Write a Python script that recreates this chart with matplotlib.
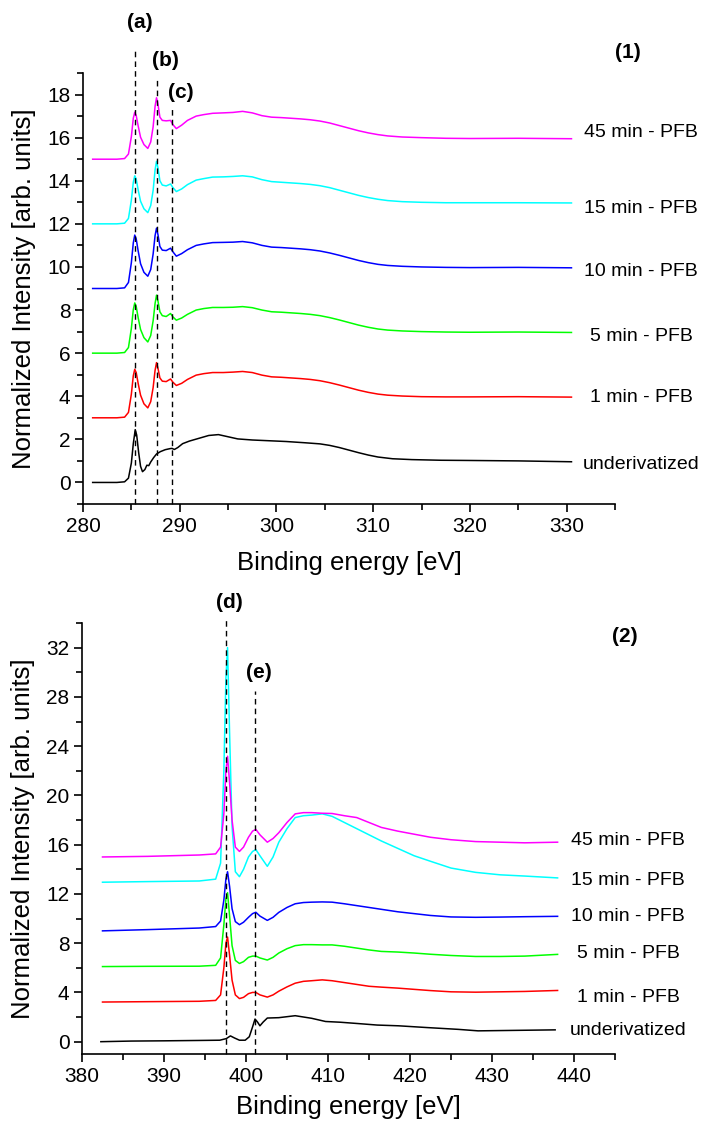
import matplotlib
matplotlib.use("Agg")
import matplotlib.pyplot as plt
from matplotlib.ticker import MultipleLocator

plt.rcParams['font.family'] = ['Liberation Sans', 'DejaVu Sans']

# ---- C 1s region (panel 1) ----
c_x = [281, 283.5, 284.3, 284.7, 285.0, 285.2, 285.35, 285.5, 285.7, 285.95, 286.3, 286.7, 287.0, 287.25,
       287.45, 287.6, 287.75, 287.95, 288.2, 288.6, 289.05, 289.3, 289.65, 290.2, 290.8, 291.7, 292.5,
       293.4, 294.5, 295.5, 296.5, 297.5, 298.5, 299.5, 300.5, 301.5, 302.5, 303.5, 304.5, 305.5, 306.5,
       307.5, 308.5, 309.5, 310.5, 311.5, 313.0, 315.0, 317.5, 320.0, 325.0, 330.5]
c_1min = [3.0, 3.0, 3.03, 3.25, 4.1, 4.95, 5.25, 5.1, 4.6, 4.05, 3.65, 3.46, 3.75, 4.4, 5.2, 5.56, 5.3,
          4.85, 4.7, 4.68, 4.8, 4.65, 4.5, 4.6, 4.78, 4.98, 5.05, 5.1, 5.1, 5.12, 5.15, 5.1, 4.98, 4.9,
          4.88, 4.85, 4.82, 4.78, 4.72, 4.63, 4.52, 4.4, 4.28, 4.18, 4.1, 4.05, 4.01, 3.98, 3.97, 3.97,
          3.98, 3.96]
c_5min = [6.0, 6.0, 6.03, 6.26, 7.15, 8.02, 8.33, 8.17, 7.65, 7.1, 6.72, 6.52, 6.82, 7.5, 8.3, 8.69, 8.42,
          7.92, 7.74, 7.7, 7.84, 7.68, 7.53, 7.63, 7.8, 8.0, 8.07, 8.12, 8.12, 8.13, 8.16, 8.11, 8.0, 7.92,
          7.9, 7.87, 7.84, 7.8, 7.74, 7.65, 7.54, 7.42, 7.3, 7.2, 7.12, 7.07, 7.03, 7.0, 6.98, 6.97, 6.98,
          6.96]
c_10min = [9.0, 9.0, 9.03, 9.28, 10.2, 11.12, 11.48, 11.3, 10.75, 10.15, 9.75, 9.57, 9.88, 10.6, 11.45,
           11.8, 11.5, 10.95, 10.78, 10.76, 10.87, 10.7, 10.5, 10.62, 10.8, 11.0, 11.07, 11.13, 11.14,
           11.15, 11.18, 11.12, 11.0, 10.92, 10.9, 10.87, 10.84, 10.8, 10.74, 10.65, 10.54, 10.42, 10.3,
           10.2, 10.12, 10.07, 10.03, 10.0, 9.98, 9.97, 9.98, 9.96]
c_15min = [12.0, 12.0, 12.03, 12.25, 13.1, 13.93, 14.23, 14.08, 13.58, 13.05, 12.7, 12.52, 12.85, 13.55,
           14.5, 14.9, 14.6, 14.0, 13.8, 13.76, 13.85, 13.68, 13.5, 13.62, 13.82, 14.03, 14.1, 14.17,
           14.18, 14.2, 14.23, 14.18, 14.05, 13.96, 13.93, 13.9, 13.87, 13.83, 13.77, 13.68, 13.56, 13.44,
           13.32, 13.22, 13.14, 13.08, 13.03, 13.0, 12.98, 12.98, 12.98, 12.97]
c_45min = [15.0, 15.0, 15.03, 15.24, 16.05, 16.9, 17.18, 17.03, 16.55, 16.02, 15.68, 15.5, 15.8, 16.5,
           17.45, 17.85, 17.55, 16.95, 16.8, 16.78, 16.8, 16.6, 16.42, 16.58, 16.8, 17.0, 17.07, 17.13,
           17.15, 17.17, 17.22, 17.15, 17.02, 16.95, 16.93, 16.9, 16.87, 16.83, 16.77, 16.68, 16.56, 16.44,
           16.32, 16.22, 16.14, 16.08, 16.03, 16.0, 15.97, 15.96, 15.97, 15.95]
c_x_und = [281, 283.5, 284.3, 284.7, 285.0, 285.2, 285.4, 285.55, 285.75, 285.95, 286.15, 286.4, 286.6,
           286.8, 287.0, 287.3, 287.6, 288.0, 288.5, 289.0, 289.2, 289.45, 289.8, 290.3, 291.0, 292.0,
           293.0, 294.0, 295.0, 296.0, 297.5, 299.0, 301.0, 303.0, 304.5, 305.5, 306.5, 307.5, 308.5,
           309.5, 310.5, 312.0, 314.0, 317.0, 320.0, 325.0, 330.5]
c_und = [0, 0, 0.03, 0.2, 0.9, 1.8, 2.45, 2.2, 1.4, 0.75, 0.5, 0.6, 0.8, 0.78, 0.95, 1.15, 1.32, 1.43,
         1.52, 1.57, 1.58, 1.53, 1.62, 1.8, 1.92, 2.05, 2.18, 2.22, 2.12, 2.02, 1.97, 1.94, 1.9, 1.84,
         1.79, 1.72, 1.62, 1.5, 1.38, 1.27, 1.18, 1.1, 1.06, 1.03, 1.02, 1.0, 0.96]
c_marks = [285.33, 287.68, 289.19]
c_mark_tops = [20.1, 18.75, 17.4]

# ---- N 1s region (panel 2) ----
n_x = [382.5, 388, 394.3, 396.3, 396.9, 397.3, 397.55, 397.75, 398.0, 398.3, 398.7, 399.2, 399.7, 400.3,
       400.8, 401.2, 401.7, 402.6, 403.3, 404.0, 405.0, 406.0, 407.0, 408.0, 409.3, 410.5, 412.0, 413.5,
       415.0, 416.5, 418.5, 420.5, 422.5, 425.0, 428.0, 431.0, 434.0, 438.0]
n_1min = [3.22, 3.25, 3.28, 3.35, 3.8, 6.0, 8.0, 8.5, 7.0, 5.0, 3.8, 3.5, 3.6, 3.9, 4.0, 4.0, 3.8, 3.62,
          3.8, 4.1, 4.45, 4.75, 4.9, 4.95, 5.02, 4.95, 4.8, 4.65, 4.5, 4.43, 4.35, 4.25, 4.15, 4.05, 4.02,
          4.05, 4.08, 4.16]
n_5min = [6.1, 6.12, 6.13, 6.2, 6.8, 9.5, 11.6, 12.1, 10.2, 7.8, 6.6, 6.35, 6.5, 6.85, 6.95, 6.95, 6.8,
          6.63, 6.85, 7.2, 7.55, 7.8, 7.88, 7.88, 7.86, 7.86, 7.75, 7.6, 7.45, 7.33, 7.28, 7.2, 7.1, 7.0,
          6.92, 6.92, 6.95, 7.09]
n_10min = [9.0, 9.1, 9.23, 9.35, 9.8, 11.5, 13.2, 13.8, 12.6, 10.8, 9.75, 9.5, 9.7, 10.1, 10.4, 10.51,
           10.2, 9.85, 10.1, 10.5, 10.9, 11.2, 11.3, 11.33, 11.35, 11.33, 11.2, 11.05, 10.9, 10.75, 10.55,
           10.4, 10.25, 10.13, 10.1, 10.12, 10.15, 10.18]
n_15min = [12.95, 13.0, 13.05, 13.2, 14.5, 22.0, 29.5, 32.0, 25.0, 17.5, 13.8, 13.4, 14.0, 15.0, 15.45,
           15.6, 15.1, 14.24, 15.0, 16.2, 17.3, 18.2, 18.35, 18.4, 18.5, 18.3, 17.8, 17.3, 16.8, 16.3,
           15.7, 15.1, 14.65, 14.1, 13.75, 13.55, 13.45, 13.3]
n_45min = [15.0, 15.05, 15.16, 15.25, 15.8, 18.5, 22.0, 23.18, 21.0, 18.0, 15.8, 15.45, 15.8, 16.6, 17.1,
           17.24, 16.8, 16.2, 16.5, 16.97, 17.8, 18.5, 18.6, 18.6, 18.55, 18.53, 18.35, 18.2, 17.8, 17.4,
           17.1, 16.85, 16.6, 16.4, 16.25, 16.2, 16.15, 16.2]
n_x_und = [382.3, 386, 390, 394.3, 396.8, 397.6, 398.1, 398.6, 399.2, 399.9, 400.4, 400.8, 401.1, 401.4,
           401.7, 402.1, 402.6, 404.0, 406.0, 408.0, 409.7, 411.5, 413.7, 416.0, 418.6, 422.0, 425.9,
           428.3, 433.0, 437.7]
n_und = [0.0, 0.05, 0.07, 0.1, 0.12, 0.25, 0.47, 0.3, 0.12, 0.12, 0.4, 1.2, 1.84, 1.6, 1.29, 1.6, 1.92,
         1.95, 2.11, 1.9, 1.64, 1.58, 1.47, 1.35, 1.29, 1.15, 1.0, 0.88, 0.92, 0.96]
n_marks = [397.6, 401.1]
n_mark_tops = [34.5, 28.5]

labels = ['underivatized', '1 min - PFB', '5 min - PFB', '10 min - PFB', '15 min - PFB', '45 min - PFB']
colors = ['black', '#ff0000', '#00ff00', '#0000ff', '#00ffff', '#ff00ff']
c_label_y = [0.82, 3.93, 6.75, 9.78, 12.73, 16.25]
n_label_y = [0.88, 3.61, 7.18, 10.18, 13.11, 16.34]

W, H = 709, 1129
fig = plt.figure(figsize=(W / 100, H / 100), dpi=100)
ax1 = fig.add_axes([83 / W, 1 - 504 / H, (615 - 83) / W, (504 - 73) / H])
ax2 = fig.add_axes([82 / W, 1 - 1054 / H, (615 - 82) / W, (1054 - 623) / H])

def style(ax, xlim, ylim, xmaj, ymaj, ymin, xpad):
    ax.set_xlim(*xlim)
    ax.set_ylim(*ylim)
    ax.xaxis.set_major_locator(MultipleLocator(xmaj))
    ax.xaxis.set_minor_locator(MultipleLocator(xmaj / 2))
    ax.yaxis.set_major_locator(MultipleLocator(ymaj))
    ax.yaxis.set_minor_locator(MultipleLocator(ymin))
    for s in ['top', 'right']:
        ax.spines[s].set_visible(False)
    for s in ['left', 'bottom']:
        ax.spines[s].set_linewidth(1.2)
    ax.tick_params(which='major', direction='out', length=6, width=1.2, labelsize=15, pad=3)
    ax.tick_params(which='minor', direction='out', length=4, width=1.2)
    ax.set_xlabel('Binding energy [eV]', fontsize=18.5, labelpad=xpad)
    ax.set_ylabel('Normalized Intensity [arb. units]', fontsize=18.5, labelpad=8)

# panel 1
ax1.plot(c_x_und, c_und, color=colors[0], lw=1.1)
for ys, col in zip([c_1min, c_5min, c_10min, c_15min, c_45min], colors[1:]):
    ax1.plot(c_x, ys, color=col, lw=1.1)
for xm, yt in zip(c_marks, c_mark_tops):
    ax1.plot([xm, xm], [-1, yt], color='black', ls=(0, (4, 3)), lw=1, clip_on=False)
for lab, yl in zip(labels, c_label_y):
    ax1.text(337.7, yl, lab, ha='center', va='center', fontsize=14, clip_on=False)
style(ax1, (280, 335), (-1, 19), 10, 2, 1, 11)

# panel 2
ax2.plot(n_x_und, n_und, color=colors[0], lw=1.1)
for ys, col in zip([n_1min, n_5min, n_10min, n_15min, n_45min], colors[1:]):
    ax2.plot(n_x, ys, color=col, lw=1.1)
for xm, yt in zip(n_marks, n_mark_tops):
    ax2.plot([xm, xm], [-1, yt], color='black', ls=(0, (4, 3)), lw=1, clip_on=False)
for lab, yl in zip(labels, n_label_y):
    ax2.text(446.6, yl, lab, ha='center', va='center', fontsize=14, clip_on=False)
style(ax2, (380, 445), (-1, 34), 10, 4, 2, 7)

# peak letters and panel numbers
for txt, px, py in [('(a)', 140, 22), ('(b)', 165, 60), ('(c)', 181, 92), ('(1)', 628, 52),
                    ('(d)', 229, 602), ('(e)', 259, 672), ('(2)', 625, 637)]:
    fig.text(px / W, 1 - py / H, txt, ha='center', va='center', fontsize=15, fontweight='bold')

fig.savefig('out.png', dpi=100)
